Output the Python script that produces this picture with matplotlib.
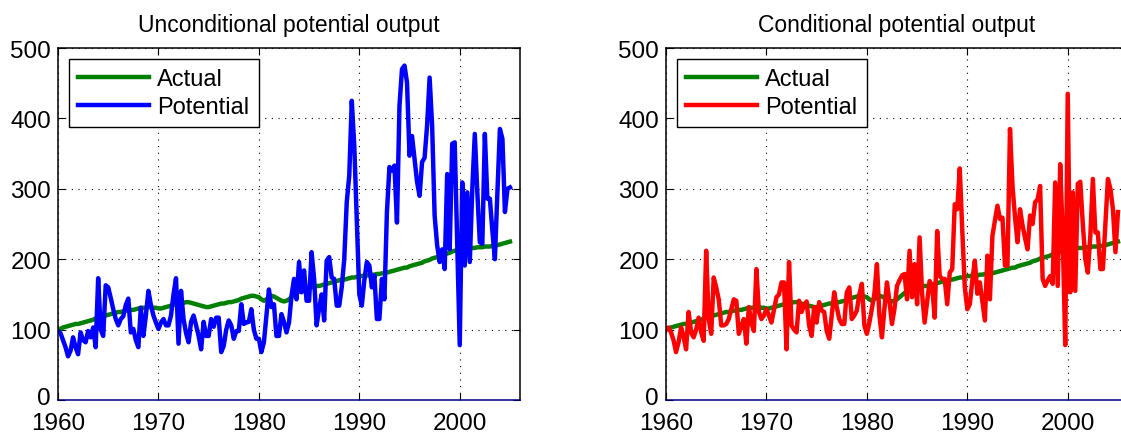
import numpy as np
import matplotlib.pyplot as plt
import matplotlib.transforms as mtransforms

plt.rcParams['font.family'] = ['Liberation Sans', 'DejaVu Sans']

# quarterly observations, 1960Q1 .. 2005Q1
years = 1960 + np.arange(181) / 4.0

actual = [
    100, 101, 103, 104, 105, 106, 107, 108, 108, 109, 110, 111,
    112, 113, 114, 116, 117, 118, 119, 120, 121, 122, 123, 124,
    125, 125, 126, 127, 127, 128, 128, 129, 130, 131, 131, 131,
    132, 132, 131, 131, 130, 130, 131, 132, 133, 134, 135, 136,
    137, 138, 138, 139, 139, 138, 137, 136, 135, 134, 133, 132,
    132, 133, 134, 135, 136, 137, 137, 138, 139, 139, 140, 141,
    142, 144, 145, 146, 147, 148, 148, 147, 146, 143, 141, 143,
    146, 148, 147, 145, 143, 141, 140, 141, 143, 146, 149, 152,
    154, 156, 157, 158, 159, 160, 161, 162, 162, 163, 164, 165,
    166, 167, 168, 169, 170, 171, 171, 172, 173, 174, 174, 175,
    176, 176, 177, 177, 177, 178, 178, 179, 179, 180, 180, 181,
    182, 183, 184, 185, 186, 187, 188, 188, 190, 191, 192, 193,
    194, 195, 197, 198, 199, 201, 202, 203, 204, 205, 207, 208,
    209, 211, 212, 213, 214, 215, 216, 216, 216, 216, 216, 217,
    217, 217, 218, 218, 218, 219, 219, 220, 221, 222, 223, 224,
    225,
]

unconditional = [
    98, 95, 85, 75, 62, 70, 89, 75, 65, 96, 85, 82,
    98, 89, 103, 75, 173, 100, 91, 163, 160, 145, 129, 115,
    106, 115, 119, 135, 144, 96, 101, 85, 75, 131, 91, 120,
    155, 135, 120, 110, 101, 110, 115, 106, 106, 120, 150, 173,
    80, 155, 115, 95, 82, 111, 120, 106, 91, 72, 111, 91,
    91, 115, 104, 117, 117, 68, 77, 100, 113, 106, 87, 98,
    98, 136, 108, 110, 111, 129, 100, 87, 87, 68, 82, 120,
    157, 132, 136, 91, 91, 122, 111, 96, 110, 148, 172, 143,
    196, 153, 184, 141, 141, 210, 172, 106, 130, 150, 113, 198,
    203, 174, 172, 134, 134, 160, 200, 281, 319, 425, 361, 257,
    150, 134, 170, 196, 191, 160, 177, 115, 115, 172, 143, 267,
    331, 326, 333, 252, 418, 470, 475, 451, 347, 375, 342, 310,
    290, 338, 344, 390, 458, 390, 262, 220, 196, 214, 186, 321,
    214, 364, 366, 219, 78, 309, 191, 295, 196, 300, 378, 295,
    224, 222, 378, 286, 286, 240, 200, 295, 385, 371, 267, 300,
    302,
]

conditional = [
    100, 103, 96, 85, 68, 82, 103, 90, 72, 125, 96, 89,
    100, 117, 96, 84, 212, 115, 94, 174, 160, 143, 106, 106,
    108, 115, 129, 143, 141, 94, 105, 115, 80, 132, 110, 98,
    186, 125, 115, 120, 129, 120, 110, 128, 146, 150, 167, 167,
    72, 196, 106, 100, 96, 141, 125, 135, 140, 106, 91, 132,
    110, 139, 127, 125, 98, 87, 120, 153, 132, 115, 108, 108,
    153, 160, 115, 120, 127, 150, 165, 106, 94, 110, 130, 151,
    193, 120, 89, 130, 167, 140, 108, 130, 162, 170, 177, 179,
    143, 212, 146, 193, 136, 231, 151, 110, 140, 169, 162, 117,
    240, 176, 172, 172, 136, 181, 186, 278, 271, 329, 240, 160,
    129, 136, 170, 198, 151, 167, 140, 113, 205, 143, 233, 255,
    276, 257, 259, 191, 191, 385, 304, 260, 224, 271, 248, 230,
    214, 262, 250, 281, 285, 304, 172, 162, 170, 176, 165, 309,
    162, 335, 233, 78, 435, 153, 295, 155, 307, 310, 250, 200,
    181, 233, 314, 238, 238, 186, 186, 250, 314, 300, 271, 210,
    267,
]

titles = ['Unconditional potential output', 'Conditional potential output']
potentials = [unconditional, conditional]
pot_colors = ['#0000ff', '#ff0000']

fig = plt.figure(figsize=(11.21, 4.39), dpi=100)
axes_pos = [[58 / 1121, 38 / 439, 462 / 1121, 352 / 439],
            [666 / 1121, 38 / 439, 462 / 1121, 352 / 439]]

for pos, title, pot, col in zip(axes_pos, titles, potentials, pot_colors):
    ax = fig.add_axes(pos)
    ax.plot(years, actual, color='#008000', lw=3.2, label='Actual')
    ax.plot(years, pot, color=col, lw=3.2, label='Potential')
    ax.set_xlim(1960, 2006)
    ax.set_ylim(0, 500)
    ax.set_xticks([1960, 1970, 1980, 1990, 2000])
    ax.set_yticks([0, 100, 200, 300, 400, 500])
    ax.grid(True, color='black', linestyle=(0, (1, 5)), linewidth=0.8)
    ax.tick_params(direction='in', top=True, right=True, length=5,
                   labelsize=17.5)
    ax.tick_params(axis='y', pad=5)
    ax.tick_params(axis='x', pad=9)
    # nudge the "0" label up a little so it clears "1960"
    lab0 = ax.get_yticklabels()[0]
    lab0.set_transform(lab0.get_transform() +
                       mtransforms.ScaledTranslation(0, 3 / 72, fig.dpi_scale_trans))
    for s in ax.spines.values():
        s.set_linewidth(1.1)
    ax.spines['bottom'].set_color('#000080')
    ax.set_title(title, fontsize=16.5, pad=12)
    leg = ax.legend(loc='upper left', fontsize=17, fancybox=False,
                    framealpha=1, edgecolor='black', handlelength=3.0,
                    borderaxespad=0.45, labelspacing=0.25, handletextpad=0.35,
                    borderpad=0.4)
    leg.get_frame().set_linewidth(1.0)

fig.savefig('out.png', dpi=100)
